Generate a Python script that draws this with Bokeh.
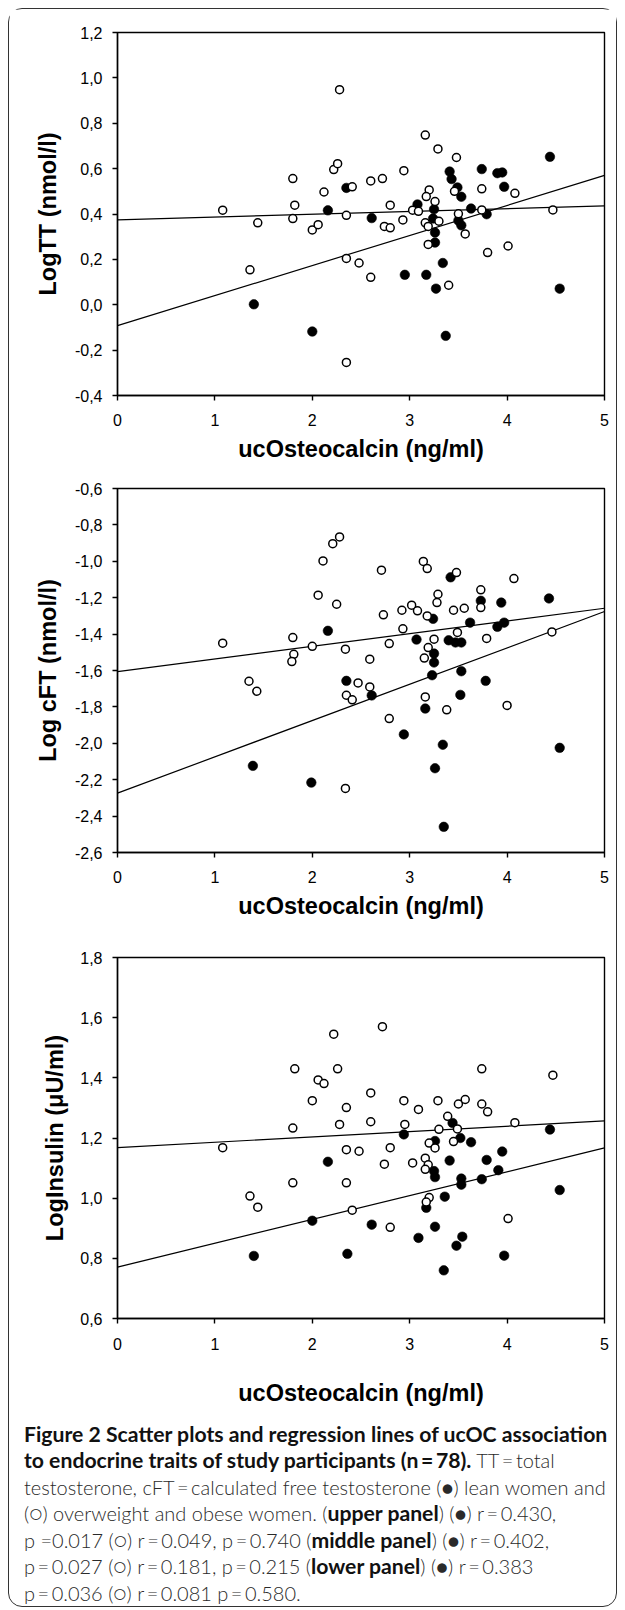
from bokeh.plotting import figure
from bokeh.layouts import column
from bokeh.models import Range1d, FixedTicker, CustomJSTickFormatter, Div, Title
from bokeh.embed import file_html
from bokeh.resources import INLINE

# ---------------- data ----------------
x_title = "ucOsteocalcin (ng/ml)"
x_ticks = [0, 1, 2, 3, 4, 5]
fit_x = [0, 5]

# upper panel: LogTT
p1_title = "LogTT (nmol/l)"
p1_ticks = [-0.4, -0.2, 0.0, 0.2, 0.4, 0.6, 0.8, 1.0, 1.2]
p1_over_x = [1.08, 1.44, 1.36, 1.80, 1.82, 1.80, 2.00, 2.06, 2.12, 2.22, 2.26, 2.28, 2.41, 2.35, 2.35, 2.48,
             2.60, 2.60, 2.72, 2.74, 2.80, 2.80, 2.94, 2.93, 3.03, 3.09, 2.35, 3.16, 3.29, 3.48, 3.20, 3.17,
             3.26, 3.16, 3.19, 3.30, 3.19, 3.40, 3.46, 3.50, 3.57, 3.74, 3.74, 3.80, 4.01, 4.08, 4.47]
p1_over_y = [0.417, 0.361, 0.154, 0.556, 0.439, 0.380, 0.330, 0.353, 0.497, 0.596, 0.622, 0.948, 0.520, 0.394,
             0.204, 0.184, 0.121, 0.546, 0.556, 0.345, 0.339, 0.439, 0.591, 0.374, 0.417, 0.412, -0.254, 0.748,
             0.687, 0.649, 0.506, 0.477, 0.455, 0.361, 0.345, 0.368, 0.266, 0.086, 0.500, 0.401, 0.312, 0.511,
             0.418, 0.230, 0.259, 0.491, 0.418]
p1_lean_x = [1.40, 2.00, 2.16, 2.35, 2.61, 2.95, 3.17, 3.08, 3.27, 3.34, 3.37, 3.25, 3.24, 3.26, 3.26, 3.41,
             3.43, 3.49, 3.53, 3.63, 3.50, 3.53, 3.74, 3.90, 3.95, 3.97, 3.79, 4.44, 4.54]
p1_lean_y = [0.002, -0.118, 0.416, 0.515, 0.382, 0.132, 0.132, 0.442, 0.071, 0.184, -0.137, 0.421, 0.380,
             0.318, 0.274, 0.587, 0.554, 0.517, 0.476, 0.424, 0.371, 0.350, 0.598, 0.580, 0.583, 0.520, 0.399,
             0.652, 0.071]
p1_fit_over = [0.374, 0.436]
p1_fit_lean = [-0.092, 0.570]

# middle panel: Log cFT
p2_title = "Log cFT (nmol/l)"
p2_ticks = [-2.6, -2.4, -2.2, -2.0, -1.8, -1.6, -1.4, -1.2, -1.0, -0.8, -0.6]
p2_over_x = [1.08, 1.35, 1.43, 1.80, 1.81, 1.79, 2.00, 2.06, 2.11, 2.21, 2.28, 2.25, 2.34, 2.35, 2.41, 2.47,
             2.59, 2.59, 2.34, 2.71, 2.73, 2.79, 2.79, 2.92, 2.93, 3.02, 3.08, 3.14, 3.18, 3.18, 3.19, 3.15,
             3.16, 3.25, 3.29, 3.28, 3.38, 3.45, 3.48, 3.49, 3.56, 3.73, 3.73, 3.79, 4.00, 4.07, 4.46]
p2_over_y = [-1.450, -1.659, -1.714, -1.419, -1.511, -1.551, -1.467, -1.186, -0.998, -0.903, -0.866, -1.236,
             -1.483, -1.736, -1.761, -1.668, -1.538, -1.690, -2.248, -1.049, -1.294, -1.452, -1.864, -1.269,
             -1.371, -1.241, -1.272, -1.001, -1.040, -1.300, -1.474, -1.532, -1.745, -1.428, -1.181, -1.227,
             -1.816, -1.269, -1.062, -1.391, -1.258, -1.157, -1.254, -1.424, -1.792, -1.095, -1.388]
p2_lean_x = [1.39, 1.99, 2.16, 2.35, 2.61, 2.94, 3.07, 3.16, 3.24, 3.25, 3.25, 3.23, 3.26, 3.34, 3.35, 3.42,
             3.40, 3.47, 3.53, 3.53, 3.52, 3.62, 3.73, 3.78, 3.90, 3.94, 3.97, 4.43, 4.54]
p2_lean_y = [-2.124, -2.216, -1.382, -1.657, -1.737, -1.951, -1.430, -1.809, -1.316, -1.507, -1.556, -1.626,
             -2.137, -2.008, -2.459, -1.088, -1.434, -1.446, -1.446, -1.604, -1.734, -1.337, -1.217, -1.657,
             -1.360, -1.227, -1.337, -1.204, -2.025]
p2_fit_over = [-1.606, -1.258]
p2_fit_lean = [-2.274, -1.276]

# lower panel: LogInsulin
p3_title = "LogInsulin (\u03bcU/ml)"
p3_ticks = [0.6, 0.8, 1.0, 1.2, 1.4, 1.6, 1.8]
p3_over_x = [1.08, 1.36, 1.44, 1.82, 1.80, 1.80, 2.00, 2.06, 2.12, 2.22, 2.26, 2.28, 2.35, 2.35, 2.35, 2.41,
             2.48, 2.60, 2.60, 2.72, 2.74, 2.80, 2.80, 2.94, 2.95, 3.03, 3.09, 3.29, 3.30, 3.16, 3.20, 3.26,
             3.19, 3.16, 3.20, 3.17, 3.39, 3.45, 3.49, 3.50, 3.57, 3.74, 3.74, 3.80, 4.01, 4.08, 4.47]
p3_over_y = [1.168, 1.007, 0.970, 1.430, 1.233, 1.051, 1.324, 1.393, 1.381, 1.545, 1.430, 1.245, 1.301, 1.161,
             1.051, 0.960, 1.156, 1.350, 1.254, 1.570, 1.113, 1.168, 0.903, 1.324, 1.245, 1.117, 1.295, 1.324,
             1.229, 1.133, 1.183, 1.167, 1.111, 1.096, 1.002, 0.987, 1.272, 1.188, 1.230, 1.313, 1.328, 1.430,
             1.313, 1.287, 0.932, 1.251, 1.409]
p3_lean_x = [1.40, 2.00, 2.16, 2.36, 2.61, 2.94, 3.09, 3.26, 3.17, 3.35, 3.48, 3.54, 3.97, 4.54, 4.44, 3.36,
             3.53, 3.53, 3.74, 3.91, 3.95, 3.79, 3.63, 3.41, 3.25, 3.26, 3.26, 3.44, 3.52]
p3_lean_y = [0.808, 0.925, 1.121, 0.815, 0.912, 1.212, 0.868, 0.905, 0.968, 0.760, 0.842, 0.872, 0.809, 1.027,
             1.228, 1.005, 1.045, 1.065, 1.063, 1.093, 1.155, 1.127, 1.186, 1.125, 1.090, 1.070, 1.190, 1.250,
             1.200]
p3_fit_over = [1.168, 1.257]
p3_fit_lean = [0.771, 1.167]

caption_lines = [
    "<b>Figure 2 Scatter plots and regression lines of ucOC association</b>",
    "<b>to endocrine traits of study participants (n\u2009=\u200978).</b> TT\u2009=\u2009total",
    "testosterone, cFT\u2009=\u2009calculated free testosterone (\u25cf) lean women and",
    "(\u25cb) overweight and obese women. (<b>upper panel</b>) (\u25cf) r\u2009=\u20090.430,",
    "p =0.017 (\u25cb) r\u2009=\u20090.049, p\u2009=\u20090.740 (<b>middle panel</b>) (\u25cf) r\u2009=\u20090.402,",
    "p\u2009=\u20090.027 (\u25cb) r\u2009=\u20090.181, p\u2009=\u20090.215 (<b>lower panel</b>) (\u25cf) r\u2009=\u20090.383",
    "p\u2009=\u20090.036 (\u25cb) r\u2009=\u20090.081 p\u2009=\u20090.580.",
]

# ---------------- drawing ----------------
FONT = "Liberation Sans"
FIG_W = 607
comma_fmt = CustomJSTickFormatter(code="return tick.toFixed(1).replace('.', ',');")
int_fmt = CustomJSTickFormatter(code="return tick.toFixed(0);")


def panel(height, top, frame_h, y_range, y_ticks, y_title, ox, oy, lx, ly, fo, fl,
          ystandoff, xlabel_standoff, xstandoff):
    p = figure(width=FIG_W, height=height, output_backend="svg", toolbar_location=None,
               x_range=Range1d(0, 5), y_range=Range1d(*y_range),
               min_border_left=108, min_border_right=FIG_W - 108 - 487,
               min_border_top=top, min_border_bottom=height - top - frame_h, margin=0)
    p.xgrid.visible = False
    p.ygrid.visible = False
    p.background_fill_color = "white"
    p.border_fill_color = "white"
    p.outline_line_color = "black"
    p.outline_line_width = 1.4
    p.outline_line_alpha = 1

    p.line(fit_x, fo, line_color="black", line_width=1.2)
    p.line(fit_x, fl, line_color="black", line_width=1.2)
    p.scatter(lx, ly, size=9.5, fill_color="black", line_color="black", line_width=0.6)
    p.scatter(ox, oy, size=8, fill_color="white", line_color="black", line_width=1.5)

    for ax in (p.xaxis[0], p.yaxis[0]):
        ax.axis_line_color = "black"
        ax.axis_line_width = 1.4
        ax.major_tick_line_color = "black"
        ax.major_tick_line_width = 1.4
        ax.major_tick_out = 5
        ax.major_tick_in = 0
        ax.minor_tick_line_color = None
        ax.major_label_text_font = FONT
        ax.major_label_text_font_size = "16px"
        ax.major_label_text_color = "black"
        ax.axis_label_text_font = FONT
        ax.axis_label_text_font_size = "23.5px"
        ax.axis_label_text_font_style = "bold"
        ax.axis_label_text_color = "black"
    p.xaxis.ticker = FixedTicker(ticks=x_ticks)
    p.xaxis.formatter = int_fmt
    p.xaxis.axis_label = x_title
    p.xaxis.major_label_standoff = xlabel_standoff
    p.xaxis.axis_label_standoff = xstandoff
    p.yaxis.ticker = FixedTicker(ticks=y_ticks)
    p.yaxis.formatter = comma_fmt
    p.yaxis.major_label_standoff = 10
    if ystandoff is not None:
        p.yaxis.axis_label = y_title
        p.yaxis.axis_label_standoff = ystandoff
    return p


p1 = panel(461, 23, 363, (-0.4, 1.2), p1_ticks, p1_title, p1_over_x, p1_over_y, p1_lean_x, p1_lean_y,
           p1_fit_over, p1_fit_lean, 11, 13, 7)
p2 = panel(460, 18, 364, (-2.6, -0.6), p2_ticks, p2_title, p2_over_x, p2_over_y, p2_lean_x, p2_lean_y,
           p2_fit_over, p2_fit_lean, 11, 13, 7)
p3 = panel(478, 27, 363, (0.6, 1.8), p3_ticks, p3_title, p3_over_x, p3_over_y, p3_lean_x, p3_lean_y,
           p3_fit_over, p3_fit_lean, None, 14, 27)
# the lower panel's y title sits a little below the frame centre in the original
p3.add_layout(Title(text=p3_title, align="center", offset=-11, standoff=19, text_font=FONT,
                    text_font_style="bold", text_font_size="23.5px", text_color="black"), "left")

html = ('<div style="padding:12.75px 0 0 15px; font-family: Lato, sans-serif; font-size:20px; '
        'color:#2a2a2a; font-weight:300;">')
for ln in caption_lines:
    html += ('<div style="height:26.5px; line-height:26.5px; white-space:nowrap;">'
             + ln.replace("<b>", '<b style="font-weight:700;color:#111;font-size:21.2px;">') + '</div>')
html += '</div>'
caption = Div(text=html, width=FIG_W, height=198, margin=0)

layout = column(p1, p2, p3, caption, spacing=0, margin=0,
                styles={"border": "1px solid #333", "border-radius": "14px", "background": "white",
                        "margin": "8px 0 0 8px"})

open("out.html", "w").write(file_html(layout, INLINE))
